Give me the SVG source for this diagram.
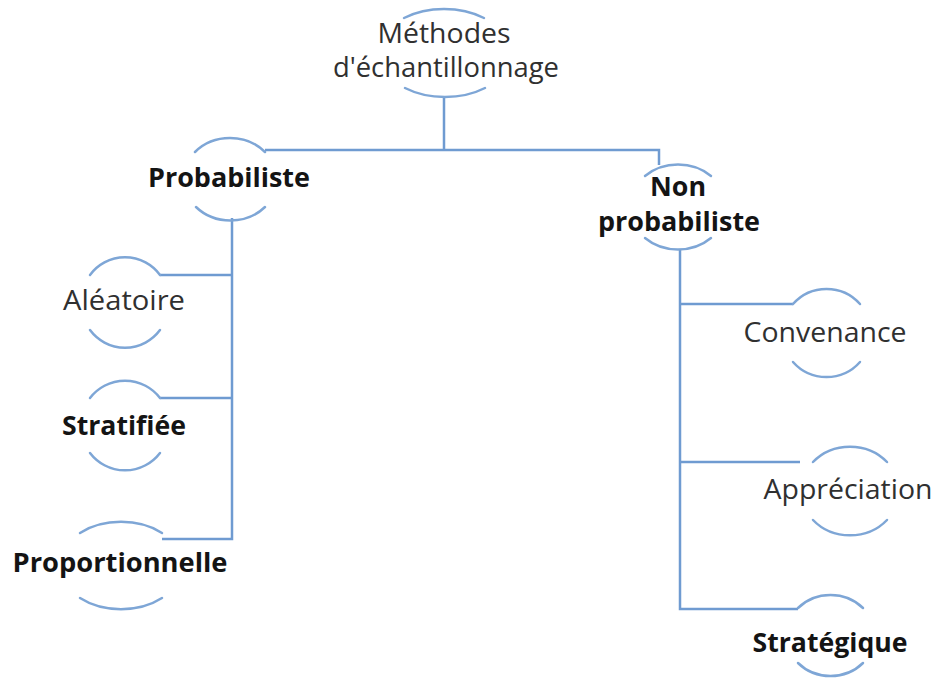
<svg xmlns="http://www.w3.org/2000/svg" width="937" height="682" viewBox="0 0 937 682">
<style>
.arc{fill:none;stroke:#7EA6D6;stroke-width:2.5;stroke-linecap:round}
.con{fill:none;stroke:#6F9BD1;stroke-width:2.5}
.t{font-family:"Open Sans","Noto Sans","Liberation Sans",sans-serif;font-size:27px;fill:#303030;text-anchor:middle}
.b{font-weight:bold;fill:#141414}
</style>
<rect width="937" height="682" fill="#ffffff"/>
<g id="connectors">
<polyline class="con" points="444,98 444,150"/>
<polyline class="con" points="265,150 659,150 659,165"/>
<polyline class="con" points="232,218 232,539 162,539"/>
<polyline class="con" points="160,275 232,275"/>
<polyline class="con" points="160,398 232,398"/>
<polyline class="con" points="680,249 680,609 798,609"/>
<polyline class="con" points="680,304 793,304"/>
<polyline class="con" points="680,462 800,462"/>
</g>
<g id="methodes">
<path class="arc" d="M404,18 A66,44 0 0 1 484,18"/>
<path class="arc" d="M405,88 A66,44 0 0 0 485,88"/>
<text class="t" x="444" y="43" textLength="133" lengthAdjust="spacingAndGlyphs">Méthodes</text>
<text class="t" x="446" y="77" textLength="226" lengthAdjust="spacingAndGlyphs">d'échantillonnage</text>
</g>
<g id="probabiliste">
<path class="arc" d="M195,152 A47,42 0 0 1 265,152"/>
<path class="arc" d="M196,207 A47,42 0 0 0 265,207"/>
<text class="t b" x="229" y="187" textLength="162" lengthAdjust="spacingAndGlyphs">Probabiliste</text>
</g>
<g id="non-probabiliste">
<path class="arc" d="M645,176 A48,42 0 0 1 711,176"/>
<path class="arc" d="M645,238 A48,42 0 0 0 711,238"/>
<text class="t b" x="678" y="196" textLength="56" lengthAdjust="spacingAndGlyphs">Non</text>
<text class="t b" x="679" y="231" textLength="162" lengthAdjust="spacingAndGlyphs">probabiliste</text>
</g>
<g id="aleatoire">
<path class="arc" d="M90,275 A44,45 0 0 1 160,275"/>
<path class="arc" d="M90,330 A44,45 0 0 0 160,330"/>
<text class="t" x="124" y="310" textLength="122" lengthAdjust="spacingAndGlyphs">Aléatoire</text>
</g>
<g id="stratifiee">
<path class="arc" d="M90,398 A44,44 0 0 1 160,398"/>
<path class="arc" d="M90,453 A44,44 0 0 0 160,453"/>
<text class="t b" x="124" y="435" textLength="124" lengthAdjust="spacingAndGlyphs">Stratifiée</text>
</g>
<g id="proportionnelle">
<path class="arc" d="M80,533 A61,43 0 0 1 162,533"/>
<path class="arc" d="M80,598 A61,43 0 0 0 162,598"/>
<text class="t b" x="120" y="572" textLength="215" lengthAdjust="spacingAndGlyphs">Proportionnelle</text>
</g>
<g id="convenance">
<path class="arc" d="M793,304 A44.5,44 0 0 1 860,304"/>
<path class="arc" d="M793,362 A44.5,44 0 0 0 860,362"/>
<text class="t" x="825" y="342" textLength="163" lengthAdjust="spacingAndGlyphs">Convenance</text>
</g>
<g id="appreciation">
<path class="arc" d="M813,462 A49,44.5 0 0 1 887,462"/>
<path class="arc" d="M813,520 A49,44.5 0 0 0 887,520"/>
<text class="t" x="848" y="499" textLength="169" lengthAdjust="spacingAndGlyphs">Appréciation</text>
</g>
<g id="strategique">
<path class="arc" d="M798,608 A44.5,41 0 0 1 863,608"/>
<path class="arc" d="M798,663 A44.5,41 0 0 0 863,663"/>
<text class="t b" x="830" y="652" textLength="155" lengthAdjust="spacingAndGlyphs">Stratégique</text>
</g>
</svg>
